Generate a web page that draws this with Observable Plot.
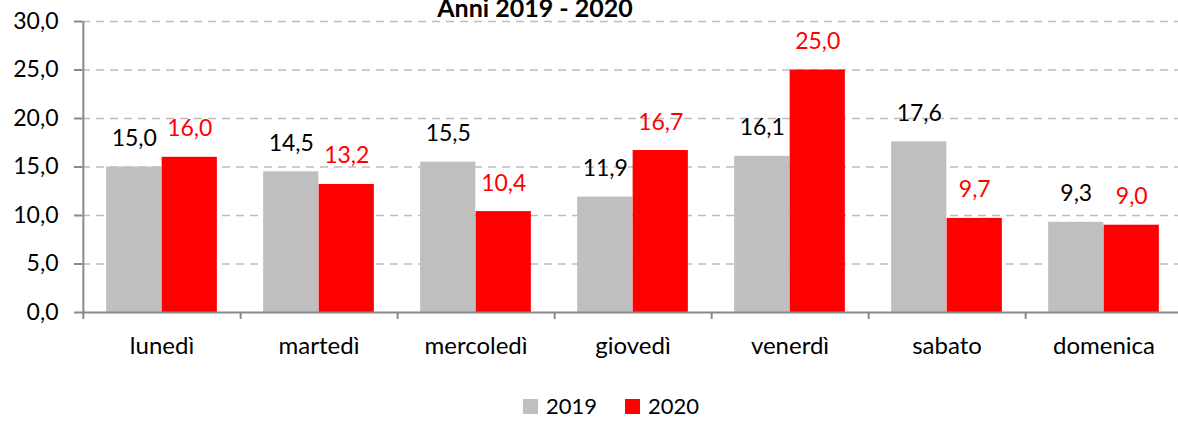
<!DOCTYPE html>
<html>
<head>
<meta charset="utf-8">
<script src="https://cdn.jsdelivr.net/npm/d3@7"></script>
<script src="https://cdn.jsdelivr.net/npm/@observablehq/plot@0.6"></script>
<style>
  body { margin: 0; background: #fff; font-family: Lato, "Open Sans", sans-serif; }
  #wrap { position: relative; width: 1178px; height: 421px; overflow: hidden; }
  #title { position: absolute; left: 0; width: 1070px; text-align: center; top: -8px; font-weight: bold; font-size: 25px; color: #000; white-space: nowrap; }
  #chart { position: absolute; left: 0; top: 0; }
  #legend { position: absolute; top: 393px; height: 26px; left: 0; width: 1222px; display: flex; justify-content: center; align-items: center; gap: 28px; font-size: 22px; line-height: 26px; color: #000; }
  .item { display: flex; align-items: center; gap: 8px; }
  .sw { width: 15px; height: 15px; display: inline-block; }
</style>
</head>
<body>
<div id="wrap">
  <div id="chart"></div>
  <div id="title"></div>
  <div id="legend"></div>
</div>
<script>
const title = "Anni 2019 - 2020";
const days = ["lunedì", "martedì", "mercoledì", "giovedì", "venerdì", "sabato", "domenica"];
const years = ["2019", "2020"];
const values2019 = [15.0, 14.5, 15.5, 11.9, 16.1, 17.6, 9.3];
const values2020 = [16.0, 13.2, 10.4, 16.7, 25.0, 9.7, 9.0];
const barColors = ["#bfbfbf", "#ff0000"];
const labelColors = ["#000000", "#ff0000"];
const yTicks = [0, 5, 10, 15, 20, 25, 30];

const fmt = d => d.toFixed(1).replace(".", ",");
const rows2019 = days.map((day, i) => ({day, year: years[0], v: values2019[i]}));
const rows2020 = days.map((day, i) => ({day, year: years[1], v: values2020[i]}));

const W = 1178, H = 380, mL = 82, mR = -5;
const step = (W - mL - mR) / days.length;
const half = step / 2;
const barW = 55.5;
const gap = half - barW;
const axisColor = "#898989";
const fontSize = 23;

const chart = Plot.plot({
  width: W,
  height: H,
  marginLeft: mL,
  marginRight: mR,
  marginTop: 21,
  marginBottom: H - 312,
  style: {fontFamily: "Lato, 'Open Sans', sans-serif", fontSize: fontSize + "px", background: "transparent", color: "#000"},
  x: {domain: days, padding: 0},
  y: {domain: [0, 30]},
  marks: [
    Plot.gridY(yTicks.slice(1), {stroke: "#bdbdbd", strokeOpacity: 1, strokeWidth: 1.6, strokeDasharray: "8,6"}),
    Plot.barY(rows2019, {x: "day", y: "v", fill: barColors[0], insetLeft: gap, insetRight: half}),
    Plot.barY(rows2020, {x: "day", y: "v", fill: barColors[1], insetLeft: half, insetRight: gap}),
    Plot.text(rows2019, {x: "day", y: "v", text: d => fmt(d.v), fill: labelColors[0], dx: -barW / 2, dy: -21, lineAnchor: "bottom", fontSize}),
    Plot.text(rows2020, {x: "day", y: "v", text: d => fmt(d.v), fill: labelColors[1], dx: barW / 2, dy: -21, lineAnchor: "bottom", fontSize}),
    Plot.ruleY([0], {stroke: axisColor, strokeWidth: 2}),
    Plot.ruleX([days[0]], {x: d => d, dx: -half, stroke: axisColor, strokeWidth: 2, insetBottom: -7}),
    Plot.ruleX(days, {x: d => d, y1: 0, y2: 0, dx: half, stroke: axisColor, strokeWidth: 2, insetBottom: -7}),
    Plot.axisY({ticks: yTicks, tickFormat: fmt, tickSize: 8, tickPadding: 16, stroke: axisColor, strokeWidth: 2, label: null, fontSize}),
    Plot.axisX({tickSize: 0, tickPadding: 24, label: null, fontSize: 24})
  ]
});
document.getElementById("chart").appendChild(chart);
document.getElementById("title").textContent = title;

const legend = document.getElementById("legend");
years.forEach((y, i) => {
  const item = document.createElement("div");
  item.className = "item";
  const sw = document.createElement("span");
  sw.className = "sw";
  sw.style.background = barColors[i];
  const t = document.createElement("span");
  t.textContent = y;
  item.appendChild(sw);
  item.appendChild(t);
  legend.appendChild(item);
});
</script>
</body>
</html>
